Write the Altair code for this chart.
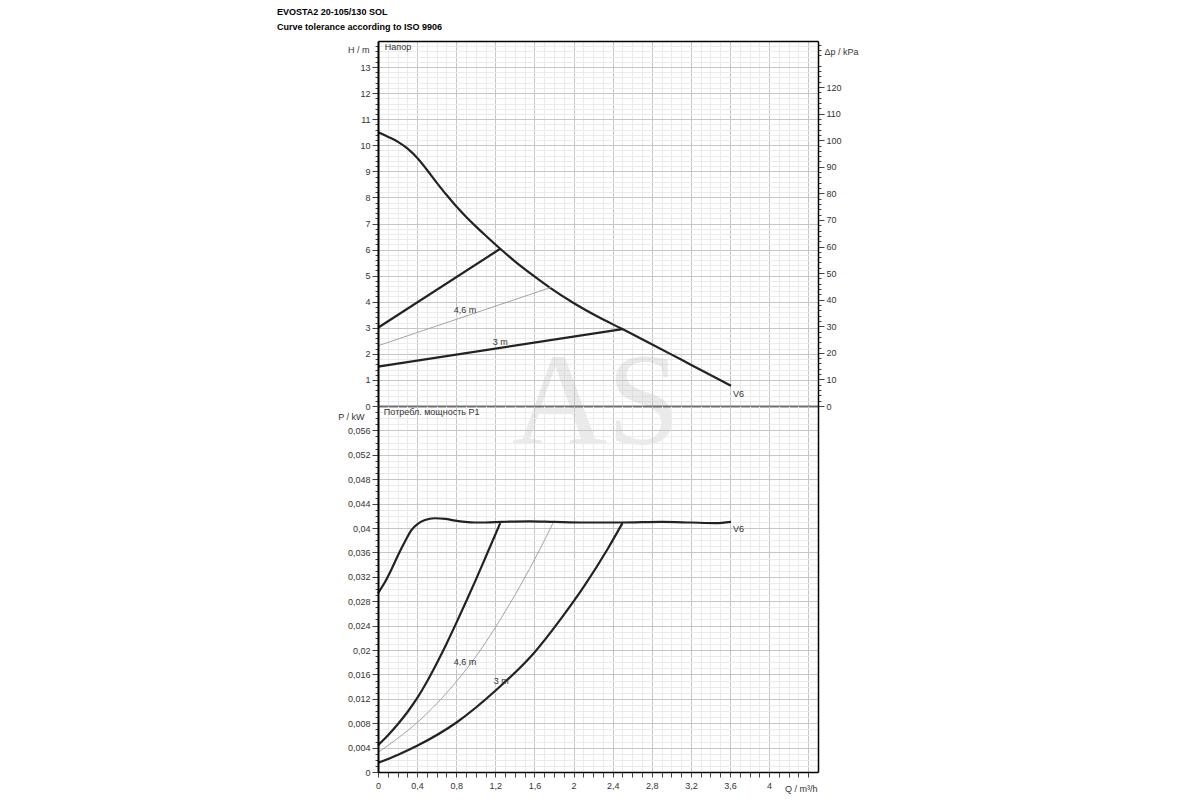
import altair as alt
import pandas as pd

FONT = "Liberation Sans"
TITLE_LINES = ["EVOSTA2 20-105/130 SOL", "Curve tolerance according to ISO 9906"]

# ---- Head curves: H / m versus Q / m³/h ----
v6_h_q = [0, 0.1, 0.2, 0.3, 0.4, 0.5, 0.6, 0.7, 0.8, 0.9, 1.0, 1.1, 1.25, 1.4, 1.6, 1.75, 2.0, 2.25, 2.5, 2.8, 3.1, 3.4, 3.61]
v6_h = [10.5, 10.33, 10.14, 9.88, 9.52, 9.06, 8.57, 8.1, 7.66, 7.26, 6.89, 6.54, 6.03, 5.55, 4.97, 4.56, 3.95, 3.42, 2.95, 2.37, 1.78, 1.19, 0.78]
hi_h_q = [0, 1.25]
hi_h = [3.0, 6.03]
mid_h_q = [0, 1.77]
mid_h = [2.31, 4.55]
lo_h_q = [0, 2.5]
lo_h = [1.51, 2.95]

# ---- Power curves: P / kW versus Q / m³/h ----
v6_p_q = [0, 0.07, 0.14, 0.21, 0.28, 0.34, 0.41, 0.48, 0.58, 0.69, 0.79, 0.89, 0.99, 1.1, 1.26, 1.55, 1.8, 2.13, 2.5, 2.9, 3.2, 3.45, 3.61]
v6_p = [0.0293, 0.0311, 0.0333, 0.0357, 0.0379, 0.0396, 0.0407, 0.0413, 0.0416, 0.0415, 0.0412, 0.0410, 0.0409, 0.0409, 0.0410, 0.0411, 0.0410, 0.0409, 0.0409, 0.0410, 0.0409, 0.0408, 0.0410]
hi_p_q = [0, 0.1, 0.2, 0.3, 0.4, 0.5, 0.6, 0.7, 0.8, 0.9, 1.0, 1.1, 1.25]
hi_p = [0.0044, 0.0060, 0.0078, 0.0098, 0.0121, 0.0148, 0.0178, 0.0210, 0.0244, 0.0279, 0.0315, 0.0352, 0.0408]
mid_p_q = [0, 0.2, 0.4, 0.6, 0.8, 1.0, 1.2, 1.4, 1.6, 1.79]
mid_p = [0.0032, 0.0055, 0.0081, 0.0112, 0.0148, 0.0189, 0.0237, 0.0290, 0.0348, 0.0408]
lo_p_q = [0, 0.2, 0.4, 0.81, 1.22, 1.6, 1.87, 2.11, 2.35, 2.5]
lo_p = [0.0015, 0.0028, 0.0043, 0.0082, 0.0136, 0.0196, 0.0251, 0.0305, 0.0366, 0.0408]

# ---- Text labels ----
top_center_labels = ["4,6 m", "3 m"]
top_center_q = [0.89, 1.25]
top_center_h = [3.68, 2.45]
top_left_labels = ["Напор", "V6"]
top_left_q = [0.07, 3.63]
top_left_h = [13.77, 0.46]
bot_center_labels = ["4,6 m", "3 m"]
bot_center_q = [0.89, 1.26]
bot_center_p = [0.0180, 0.0149]
bot_left_labels = ["Потребл. мощность P1", "V6"]
bot_left_q = [0.06, 3.63]
bot_left_p = [0.0590, 0.0398]
watermark_text = ["AS"]
watermark_q = [2.23]
watermark_h = [-1.46]

# ---- Tick values ----
x_major = [0, 0.4, 0.8, 1.2, 1.6, 2, 2.4, 2.8, 3.2, 3.6, 4, 4.4]
x_minor = [round(i * 0.1, 1) for i in range(1, 45) if i % 4 != 0]
h_major = list(range(0, 14))
h_minor = [round(i * 0.2, 1) for i in range(1, 70) if i % 5 != 0]
k_major = [0, 10, 20, 30, 40, 50, 60, 70, 80, 90, 100, 110, 120]
k_minor = [i for i in range(2, 137, 2) if i % 10 != 0]
p_major = [round(i * 0.004, 3) for i in range(0, 15)]
p_minor = [round(i * 0.001, 3) for i in range(1, 60) if i % 4 != 0]

GRID_MAJOR = "#c6c6c6"
GRID_MINOR = "#ebebeb"
TICK = "#444444"
CURVE = "#222222"

xs = alt.Scale(domain=[0, 4.5], nice=False, zero=False)
hs = alt.Scale(domain=[0, 14], nice=False, zero=False)
ks = alt.Scale(domain=[0, 14 * 9.81], nice=False, zero=False)
ps = alt.Scale(domain=[0, 0.06], nice=False, zero=False)


def df(q, v, name, labels=None):
    d = {"q": q, name: v}
    if labels is not None:
        d["label"] = labels
    return pd.DataFrame(d)


def ex(axis):
    return alt.X("q:Q", scale=xs, axis=axis)


def eh(axis):
    return alt.Y("h:Q", scale=hs, axis=axis)


def ep(axis):
    return alt.Y("p:Q", scale=ps, axis=axis)


def border(orient, color="black", width=1.5):
    return alt.Axis(orient=orient, values=[], grid=False, ticks=False, labels=False,
                    domain=True, domainColor=color, domainWidth=width, zindex=1, title=None)


def grid_only(orient, values, color):
    return alt.Axis(orient=orient, values=values, grid=True, gridColor=color, gridWidth=1,
                    ticks=False, labels=False, domain=False, title=None)


comma = "replace(toString(datum.value), '.', ',')"

# ---------------- Top panel ----------------
ax_x_minor_top = grid_only("bottom", x_minor, GRID_MINOR)
ax_x_major_top = grid_only("bottom", x_major[1:], GRID_MAJOR)
ax_h_minor = alt.Axis(orient="left", values=h_minor, grid=True, gridColor=GRID_MINOR, ticks=True,
                      tickSize=3, tickColor=TICK, labels=False, domain=False, title=None)
ax_h_major = alt.Axis(orient="left", values=h_major, grid=True, gridColor=GRID_MAJOR, ticks=True,
                      tickSize=6, tickColor=TICK, labels=True, labelPadding=2, labelFlush=False,
                      domain=False, title="H / m", titleAngle=0, titleAlign="right",
                      titleBaseline="middle", titleX=-9, titleY=8)
ax_k_minor = alt.Axis(orient="right", values=k_minor, grid=False, ticks=True, tickSize=3,
                      tickColor=TICK, labels=False, domain=False, title=None)
ax_k_major = alt.Axis(orient="right", values=k_major, grid=False, ticks=True, tickSize=6,
                      tickColor=TICK, labels=True, labelPadding=2, labelFlush=False,
                      domain=True, domainColor="black", domainWidth=1.5, zindex=1,
                      title="Δp / kPa", titleAngle=0, titleAlign="left",
                      titleBaseline="middle", titleX=6, titleY=10)

wm = alt.Chart(df(watermark_q, watermark_h, "h", watermark_text)).mark_text(
    font="Liberation Serif", fontSize=132, color="#bdbdbd", opacity=0.3,
    align="center", baseline="alphabetic"
).encode(x=ex(ax_x_minor_top), y=eh(ax_h_minor), text="label:N")

v6h = alt.Chart(df(v6_h_q, v6_h, "h")).mark_line(
    color=CURVE, strokeWidth=2.2, interpolate="monotone"
).encode(x=ex(ax_x_major_top), y=eh(ax_h_major))

hih = alt.Chart(df(hi_h_q, hi_h, "h")).mark_line(color=CURVE, strokeWidth=2.2).encode(
    x=ex(border("top")), y=eh(border("left", width=2)))

midh = alt.Chart(df(mid_h_q, mid_h, "h")).mark_line(color="#9a9a9a", strokeWidth=0.9).encode(
    x=ex(border("bottom", color="#6e6e6e", width=2)), y=eh(None))

loh = alt.Chart(df(lo_h_q, lo_h, "h")).mark_line(color=CURVE, strokeWidth=2.2).encode(
    x=ex(None), y=eh(None))

txt_top_c = alt.Chart(df(top_center_q, top_center_h, "h", top_center_labels)).mark_text(
    font=FONT, fontSize=9, color="#333333", align="center", baseline="middle"
).encode(x=ex(None), y=eh(None), text="label:N")

txt_top_l = alt.Chart(df(top_left_q, top_left_h, "h", top_left_labels)).mark_text(
    font=FONT, fontSize=9, color="#333333", align="left", baseline="middle"
).encode(x=ex(None), y=eh(None), text="label:N")

inner_top = alt.layer(wm, v6h, hih, midh, loh, txt_top_c, txt_top_l).resolve_axis(
    x="independent", y="independent")

k1 = alt.Chart(df(v6_h_q, v6_h, "h")).transform_calculate(kpa="datum.h * 9.81").mark_line(
    opacity=0).encode(x=ex(None), y=alt.Y("kpa:Q", scale=ks, axis=ax_k_minor))
k2 = alt.Chart(df(v6_h_q, v6_h, "h")).transform_calculate(kpa="datum.h * 9.81").mark_line(
    opacity=0).encode(x=ex(None), y=alt.Y("kpa:Q", scale=ks, axis=ax_k_major))

top = alt.layer(inner_top, k1, k2).resolve_scale(y="independent").resolve_axis(
    x="independent", y="independent").properties(width=440, height=365)

# ---------------- Bottom panel ----------------
ax_x_minor_bot = alt.Axis(orient="bottom", values=x_minor, grid=True, gridColor=GRID_MINOR,
                          ticks=True, tickSize=5, tickColor=TICK, labels=False, domain=False,
                          title=None)
ax_x_major_bot = alt.Axis(orient="bottom", values=x_major, grid=True, gridColor=GRID_MAJOR,
                          ticks=True, tickSize=5, tickColor=TICK, labels=True, labelPadding=4,
                          labelFlush=False,
                          labelExpr="datum.value > 4.2 ? '' : " + comma,
                          domain=False, title="Q / m³/h", titleAngle=0, titleAlign="right",
                          titleBaseline="middle", titleX=439, titleY=16)
ax_p_minor = alt.Axis(orient="left", values=p_minor, grid=True, gridColor=GRID_MINOR, ticks=True,
                      tickSize=3, tickColor=TICK, labels=False, domain=False, title=None)
ax_p_major = alt.Axis(orient="left", values=p_major, grid=True, gridColor=GRID_MAJOR, ticks=True,
                      tickSize=6, tickColor=TICK, labels=True, labelPadding=2, labelFlush=False,
                      labelExpr=comma, domain=False, title="P  / kW", titleAngle=0,
                      titleAlign="right", titleBaseline="middle", titleX=-14, titleY=10)

v6p = alt.Chart(df(v6_p_q, v6_p, "p")).mark_line(
    color=CURVE, strokeWidth=2.2, interpolate="monotone"
).encode(x=ex(ax_x_minor_bot), y=ep(ax_p_minor))

hip = alt.Chart(df(hi_p_q, hi_p, "p")).mark_line(
    color=CURVE, strokeWidth=2.2, interpolate="monotone"
).encode(x=ex(ax_x_major_bot), y=ep(ax_p_major))

midp = alt.Chart(df(mid_p_q, mid_p, "p")).mark_line(
    color="#9a9a9a", strokeWidth=0.9, interpolate="monotone"
).encode(x=ex(border("bottom")), y=ep(border("left", width=2)))

lop = alt.Chart(df(lo_p_q, lo_p, "p")).mark_line(
    color=CURVE, strokeWidth=2.2, interpolate="monotone"
).encode(x=ex(None), y=ep(border("right")))

txt_bot_c = alt.Chart(df(bot_center_q, bot_center_p, "p", bot_center_labels)).mark_text(
    font=FONT, fontSize=9, color="#333333", align="center", baseline="middle"
).encode(x=ex(None), y=ep(None), text="label:N")

txt_bot_l = alt.Chart(df(bot_left_q, bot_left_p, "p", bot_left_labels)).mark_text(
    font=FONT, fontSize=9, color="#333333", align="left", baseline="middle"
).encode(x=ex(None), y=ep(None), text="label:N")

bottom = alt.layer(v6p, hip, midp, lop, txt_bot_c, txt_bot_l).resolve_axis(
    x="independent", y="independent").properties(width=440, height=366)

chart = alt.vconcat(top, bottom, spacing=0, bounds="flush").properties(
    title=alt.TitleParams(text=TITLE_LINES, anchor="start", frame="bounds", font=FONT,
                          fontSize=9, fontWeight="bold", color="black", lineHeight=15,
                          dx=-58, offset=9),
    padding={"left": 269, "top": 0, "right": 10, "bottom": 5},
    background="white",
).configure_view(stroke=None).configure_axis(
    labelFont=FONT, titleFont=FONT, labelFontSize=9, titleFontSize=9,
    labelColor="#333333", titleColor="#333333", titleFontWeight="normal"
)

chart.save("out.html", embed_options={"renderer": "svg", "actions": False})
